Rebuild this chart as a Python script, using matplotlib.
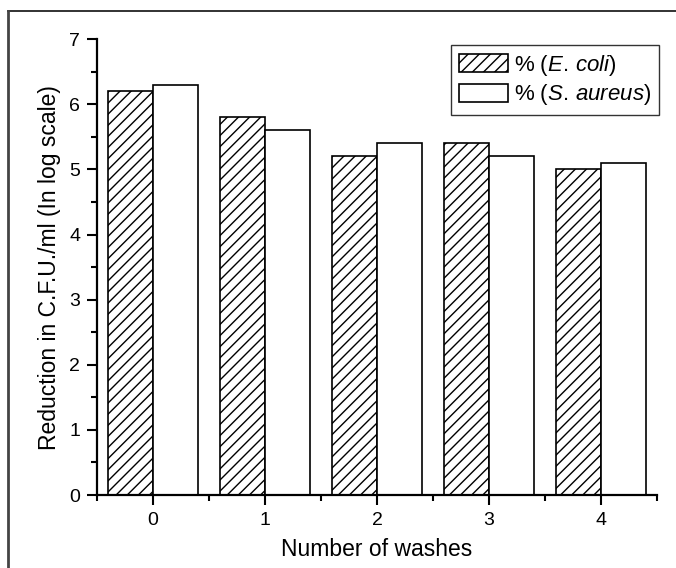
import matplotlib
matplotlib.use('Agg')
import matplotlib.pyplot as plt
import numpy as np
from matplotlib.ticker import MultipleLocator

plt.rcParams['font.family'] = 'Liberation Sans'
plt.rcParams['mathtext.fontset'] = 'custom'
plt.rcParams['mathtext.rm'] = 'Liberation Sans'
plt.rcParams['mathtext.it'] = 'Liberation Sans:italic'
plt.rcParams['hatch.linewidth'] = 1.0

washes = [0, 1, 2, 3, 4]
ecoli = [6.2, 5.8, 5.2, 5.4, 5.0]
saureus = [6.3, 5.6, 5.4, 5.2, 5.1]

fig = plt.figure(figsize=(6.76, 5.68), dpi=100)
ax = fig.add_axes([0.1435, 0.1285, 0.9720 - 0.1435, 0.931 - 0.1285])

x = np.array(washes)
w = 0.4
ax.bar(x - w / 2, ecoli, w, color='white', edgecolor='black', hatch='///',
       linewidth=1.2, label=r'% ($\it{E.\,coli}$)')
ax.bar(x + w / 2, saureus, w, color='white', edgecolor='black',
       linewidth=1.2, label=r'% ($\it{S.\,aureus}$)')

ax.set_xlim(-0.5, 4.5)
ax.set_ylim(0, 7)
ax.set_xticks(washes)
ax.xaxis.set_minor_locator(MultipleLocator(0.5))
ax.yaxis.set_minor_locator(MultipleLocator(0.5))
ax.spines['top'].set_visible(False)
ax.spines['right'].set_visible(False)
for s in ['left', 'bottom']:
    ax.spines[s].set_linewidth(1.6)
ax.tick_params(which='major', length=7, width=1.5, labelsize=14, pad=5)
ax.tick_params(which='minor', length=4, width=1.5)

ax.set_xlabel('Number of washes', fontsize=16.5, labelpad=7)
ax.set_ylabel('Reduction in C.F.U./ml (In log scale)', fontsize=16.5, labelpad=6)

leg = ax.legend(loc='upper right', bbox_to_anchor=(1.0036, 0.987), fontsize=16,
                frameon=True, fancybox=False, edgecolor='black',
                handlelength=2.2, handleheight=0.86, handletextpad=0.27,
                labelspacing=0.2, borderpad=0.35, borderaxespad=0.0)
leg.get_frame().set_linewidth(1.0)

# frame lines along the top and left of the figure
fig.add_artist(plt.Line2D([8 / 676, 1], [1 - 11 / 568, 1 - 11 / 568],
                          transform=fig.transFigure, color='#222222', lw=1.3))
fig.add_artist(plt.Line2D([8 / 676, 8 / 676], [0, 1 - 11 / 568],
                          transform=fig.transFigure, color='#444444', lw=2.0))

fig.savefig('out.png', dpi=100)
